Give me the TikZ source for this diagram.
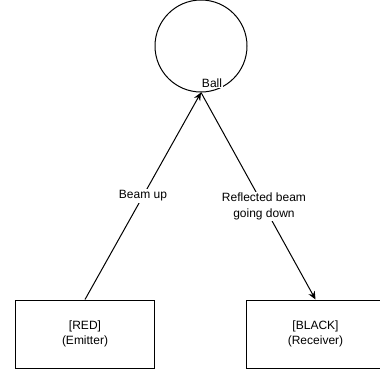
\documentclass[tikz,border=0pt]{standalone}
\usepackage{fontspec}
\setmainfont{Liberation Sans}
\usetikzlibrary{arrows.meta}

\begin{document}
\begin{tikzpicture}[x=1pt, y=-1pt, line width=1pt,
  every node/.style={font=\fontsize{12pt}{15.5pt}\selectfont},
  unitbox/.style={draw, minimum width=139pt, minimum height=68pt, align=center},
  target/.style={draw, circle, minimum size=92pt, inner sep=0pt},
  beam/.style={-{Stealth[length=8pt, width=7pt]}},
  beamlabel/.style={fill=white, inner sep=1.5pt, align=center}]
\useasboundingbox (0,0) rectangle (380,375);
\node[target] (ball) at (201,46) {};
\node[fill=white, inner sep=1pt] (balltext) at (212,83) {Ball};
\node[unitbox] (emitter) at (85,334) {[RED]\\(Emitter)};
\node[unitbox] (receiver) at (315.5,334) {[BLACK]\\(Receiver)};
\draw[beam] (emitter.north) -- node[beamlabel] {Beam up} (ball.south);
\draw[beam] (ball.south) -- node[beamlabel, pos=0.55] {Reflected beam\\going down} (receiver.north);
\end{tikzpicture}
\end{document}
